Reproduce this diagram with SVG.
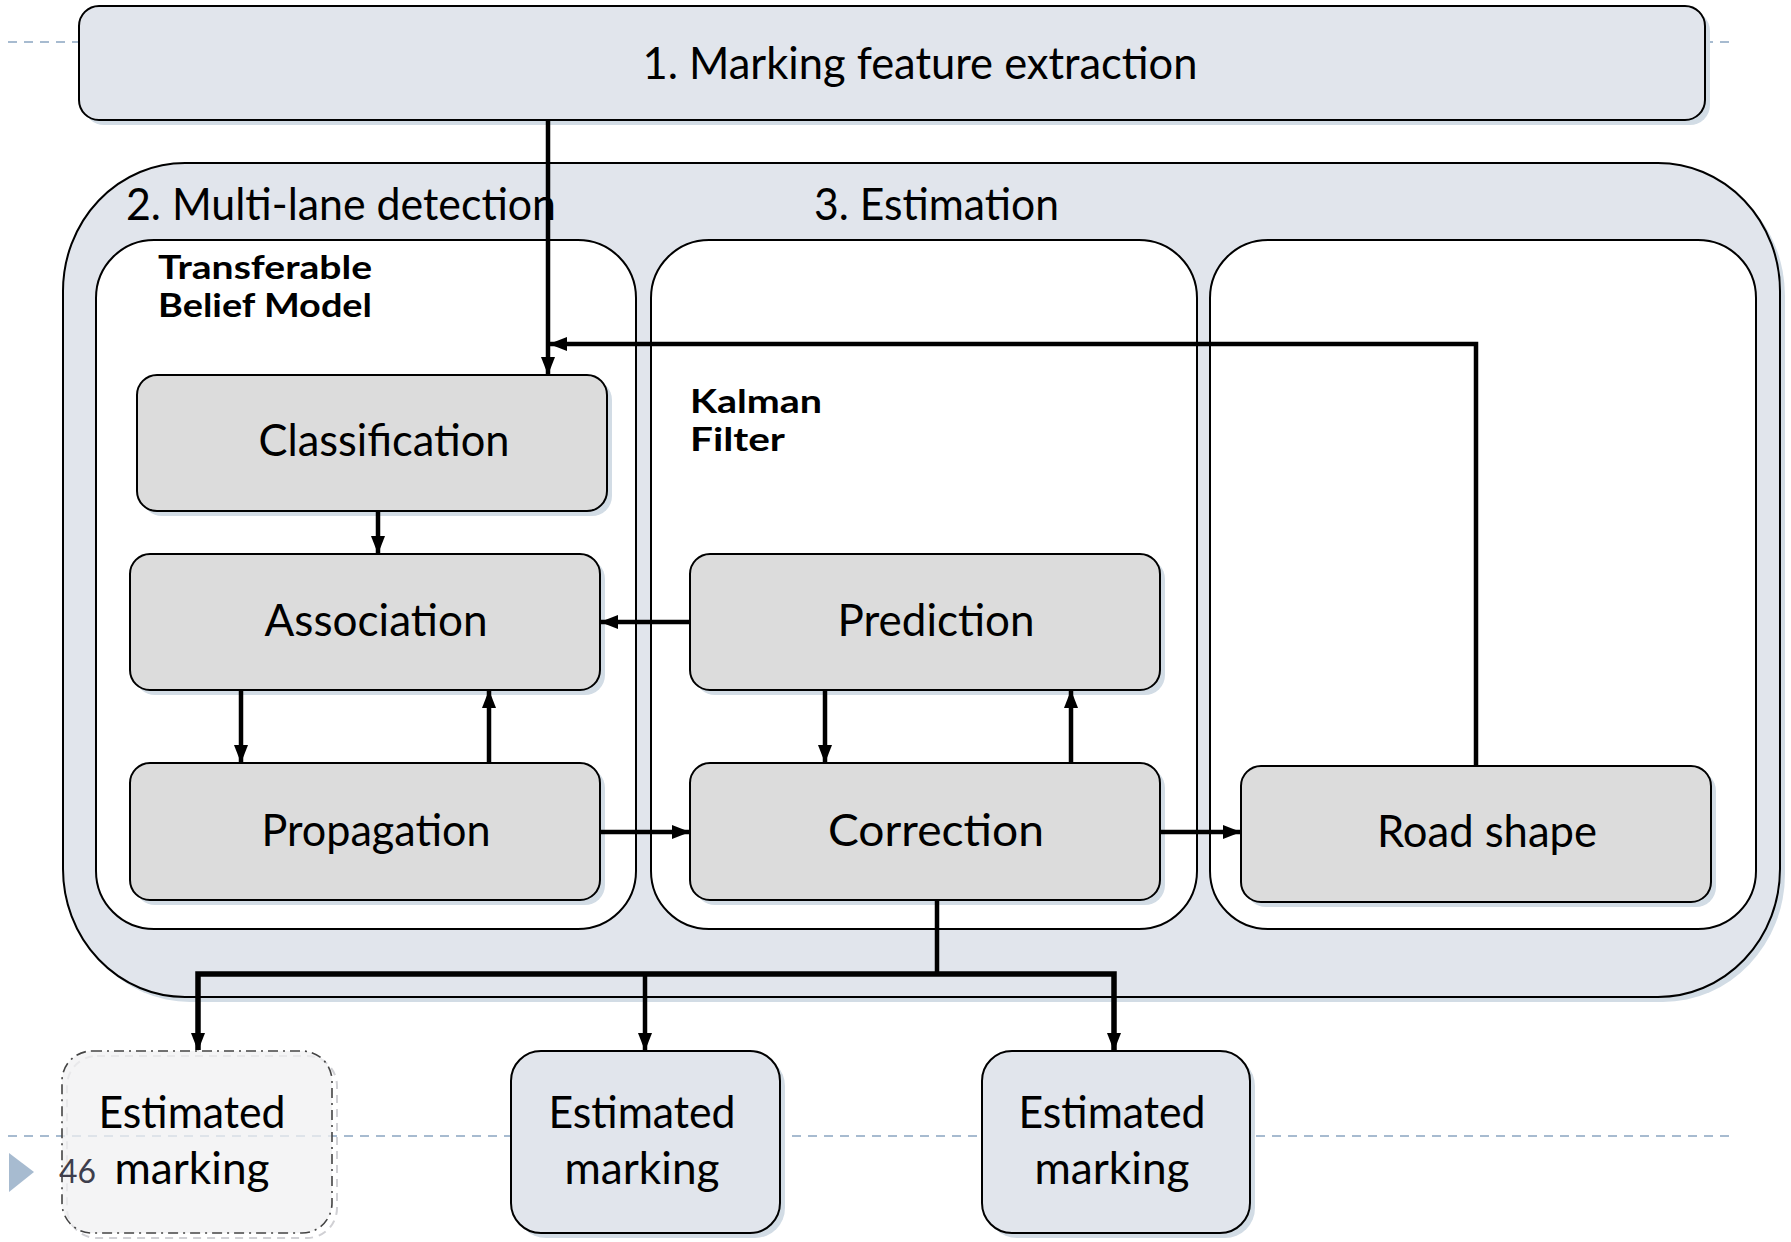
<svg xmlns="http://www.w3.org/2000/svg" width="1791" height="1242" viewBox="0 0 1791 1242">
  <defs>
    <marker id="arrow" markerUnits="userSpaceOnUse" markerWidth="18" markerHeight="16" viewBox="0 0 18 16" refX="17" refY="8" orient="auto">
      <path d="M0,1 L18,8 L0,15 Z" fill="#000"/>
    </marker>
    <style>
      .shadow { fill: #d2dce5; }
      .pane { fill: #e1e5ec; stroke: #000; stroke-width: 2; }
      .panel { fill: #ffffff; stroke: #000; stroke-width: 2; }
      .step { fill: #dcdcdc; stroke: #000; stroke-width: 2; }
      .out { fill: #e1e5ec; stroke: #000; stroke-width: 2; }
      .label { font-family: Lato, "Open Sans", sans-serif; font-size: 44px; fill: #000; }
      .title { font-family: Lato, "Open Sans", sans-serif; font-size: 45px; fill: #000; }
      .caption { font-family: Lato, "Open Sans", sans-serif; font-size: 33px; font-weight: 700; fill: #000; }
      .guide { stroke: #a7bbd0; stroke-width: 2; stroke-dasharray: 9 7; fill: none; }
      .wire { stroke: #000; stroke-width: 4.5; fill: none; }
      .bus { stroke: #000; stroke-width: 5.5; fill: none; }
    </style>
  </defs>

  <!-- slide guide lines and footer -->
  <g id="slide-decor">
    <line class="guide" x1="8" y1="42" x2="1736" y2="42"/>
    <line class="guide" x1="8" y1="1136" x2="1736" y2="1136"/>
    <polygon points="9,1153 9,1192 34,1172" fill="#a7bbd0"/>
  </g>

  <!-- 1. feature extraction -->
  <g id="feature-extraction">
    <rect class="shadow" x="84" y="11" width="1626" height="114" rx="20"/>
    <rect class="pane" x="79" y="6" width="1626" height="114" rx="20"/>
    <text class="title" x="920" y="79" text-anchor="middle" textLength="555" lengthAdjust="spacingAndGlyphs">1. Marking feature extraction</text>
  </g>

  <!-- container for stages 2 and 3 -->
  <g id="processing">
    <rect class="shadow" x="68" y="168" width="1717" height="834" rx="122" ry="128"/>
    <rect class="pane" x="63" y="163" width="1717" height="834" rx="122" ry="128"/>
    <text class="title" x="126" y="220" textLength="430" lengthAdjust="spacingAndGlyphs">2. Multi-lane detection</text>
    <text class="title" x="814" y="220" textLength="245" lengthAdjust="spacingAndGlyphs">3. Estimation</text>
  </g>

  <g id="panel-tbm">
    <rect class="panel" x="96" y="240" width="540" height="689" rx="58"/>
    <text class="caption" x="158" y="279" textLength="214" lengthAdjust="spacingAndGlyphs">Transferable</text>
    <text class="caption" x="158" y="317" textLength="214" lengthAdjust="spacingAndGlyphs">Belief Model</text>
  </g>

  <g id="panel-kalman">
    <rect class="panel" x="651" y="240" width="546" height="689" rx="58"/>
    <text class="caption" x="690" y="413" textLength="132" lengthAdjust="spacingAndGlyphs">Kalman</text>
    <text class="caption" x="690" y="451" textLength="95" lengthAdjust="spacingAndGlyphs">Filter</text>
  </g>

  <g id="panel-road">
    <rect class="panel" x="1210" y="240" width="546" height="689" rx="58"/>
  </g>

  <!-- processing steps -->
  <g id="classification">
    <rect class="shadow" x="142" y="380" width="470" height="136" rx="20"/>
    <rect class="step" x="137" y="375" width="470" height="136" rx="20"/>
    <text class="label" x="384" y="456" text-anchor="middle" textLength="251" lengthAdjust="spacingAndGlyphs">Classification</text>
  </g>

  <g id="association">
    <rect class="shadow" x="135" y="559" width="470" height="136" rx="20"/>
    <rect class="step" x="130" y="554" width="470" height="136" rx="20"/>
    <text class="label" x="376" y="636" text-anchor="middle" textLength="223" lengthAdjust="spacingAndGlyphs">Association</text>
  </g>

  <g id="propagation">
    <rect class="shadow" x="135" y="768" width="470" height="137" rx="20"/>
    <rect class="step" x="130" y="763" width="470" height="137" rx="20"/>
    <text class="label" x="376" y="846" text-anchor="middle" textLength="229" lengthAdjust="spacingAndGlyphs">Propagation</text>
  </g>

  <g id="prediction">
    <rect class="shadow" x="695" y="559" width="470" height="136" rx="20"/>
    <rect class="step" x="690" y="554" width="470" height="136" rx="20"/>
    <text class="label" x="936" y="636" text-anchor="middle" textLength="197" lengthAdjust="spacingAndGlyphs">Prediction</text>
  </g>

  <g id="correction">
    <rect class="shadow" x="695" y="768" width="470" height="137" rx="20"/>
    <rect class="step" x="690" y="763" width="470" height="137" rx="20"/>
    <text class="label" x="936" y="846" text-anchor="middle" textLength="216" lengthAdjust="spacingAndGlyphs">Correction</text>
  </g>

  <g id="road-shape">
    <rect class="shadow" x="1246" y="771" width="470" height="136" rx="20"/>
    <rect class="step" x="1241" y="766" width="470" height="136" rx="20"/>
    <text class="label" x="1487" y="847" text-anchor="middle" textLength="220" lengthAdjust="spacingAndGlyphs">Road shape</text>
  </g>

  <!-- outputs -->
  <g id="estimated-marking-1">
    <rect x="67" y="1056" width="270" height="182" rx="30" fill="none" stroke="#d0d0d4" stroke-width="2" stroke-dasharray="8 6"/>
    <rect x="62" y="1051" width="270" height="182" rx="30" fill="#f0f0f2" fill-opacity="0.75" stroke="#444" stroke-width="1.6" stroke-dasharray="10 5 2 5"/>
    <text class="label" x="192" y="1128" text-anchor="middle" font-size="42" textLength="187" lengthAdjust="spacingAndGlyphs">Estimated</text>
    <text class="label" x="192" y="1184" text-anchor="middle" font-size="42" textLength="155" lengthAdjust="spacingAndGlyphs">marking</text>
  </g>

  <g id="estimated-marking-2">
    <rect class="shadow" x="516" y="1056" width="269" height="182" rx="30"/>
    <rect class="out" x="511" y="1051" width="269" height="182" rx="30"/>
    <text class="label" x="642" y="1128" text-anchor="middle" font-size="42" textLength="187" lengthAdjust="spacingAndGlyphs">Estimated</text>
    <text class="label" x="642" y="1184" text-anchor="middle" font-size="42" textLength="155" lengthAdjust="spacingAndGlyphs">marking</text>
  </g>

  <g id="estimated-marking-3">
    <rect class="shadow" x="987" y="1056" width="268" height="182" rx="30"/>
    <rect class="out" x="982" y="1051" width="268" height="182" rx="30"/>
    <text class="label" x="1112" y="1128" text-anchor="middle" font-size="42" textLength="187" lengthAdjust="spacingAndGlyphs">Estimated</text>
    <text class="label" x="1112" y="1184" text-anchor="middle" font-size="42" textLength="155" lengthAdjust="spacingAndGlyphs">marking</text>
  </g>

  <!-- page number -->
  <text x="59" y="1183" font-family="Lato, 'Open Sans', sans-serif" font-size="33" fill="#3e3e4c" textLength="37" lengthAdjust="spacingAndGlyphs">46</text>

  <!-- connectors -->
  <g id="connectors">
    <path class="wire" d="M548,120 V374" marker-end="url(#arrow)"/>
    <path class="wire" d="M1476,766 V344 H550" marker-end="url(#arrow)"/>
    <path class="wire" d="M378,511 V553" marker-end="url(#arrow)"/>
    <path class="wire" d="M241,690 V762" marker-end="url(#arrow)"/>
    <path class="wire" d="M489,763 V691" marker-end="url(#arrow)"/>
    <path class="wire" d="M690,622 H601" marker-end="url(#arrow)"/>
    <path class="wire" d="M825,690 V762" marker-end="url(#arrow)"/>
    <path class="wire" d="M1071,763 V691" marker-end="url(#arrow)"/>
    <path class="wire" d="M600,832 H689" marker-end="url(#arrow)"/>
    <path class="wire" d="M1160,832 H1240" marker-end="url(#arrow)"/>
    <path class="wire" d="M937,900 V974"/>
    <path class="bus" d="M937,974 H198 V1050" marker-end="url(#arrow)"/>
    <path class="bus" d="M937,974 H1114 V1050" marker-end="url(#arrow)"/>
    <path class="wire" d="M645,974 V1050" marker-end="url(#arrow)"/>
  </g>
</svg>
